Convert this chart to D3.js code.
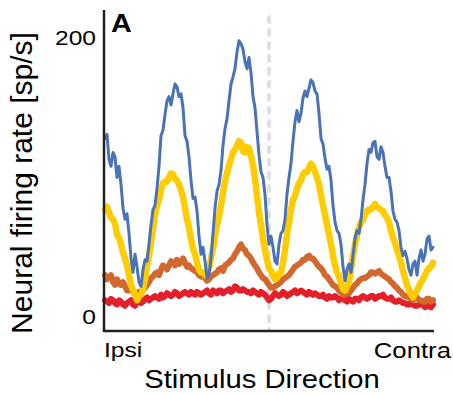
<!DOCTYPE html>
<html>
<head>
<meta charset="utf-8">
<script src="https://cdn.jsdelivr.net/npm/d3@7"></script>
<style>
  html, body { margin: 0; padding: 0; background: #fff; }
  svg { display: block; }
  text { font-family: "Liberation Sans", Arial, sans-serif; fill: #000; }
</style>
</head>
<body>
<svg id="chart" width="453" height="394"></svg>
<script>
// Firing rate [sp/s] sampled along stimulus direction (Ipsi -> Contra)
const blue = [128,131,113,108,118,115,100,108,95,78,70,74,60,42,32,45,36,25,22,34,41,40,52,66,77,80,92,108,130,134,145,155,158,152,160,167,165,158,160,150,130,126,115,98,85,86,76,58,45,50,40,28,30,42,60,78,90,95,105,123,135,142,155,167,172,178,190,198,196,192,183,178,186,175,158,150,133,116,104,100,88,66,52,58,50,40,38,52,60,62,70,88,100,110,126,140,148,140,146,157,162,158,164,170,168,162,160,146,128,124,114,106,108,98,80,68,62,60,52,36,26,34,38,32,44,56,62,60,70,84,95,110,120,118,125,126,115,113,122,118,108,100,100,90,76,70,68,62,50,44,47,42,34,30,38,40,30,42,48,40,45,56,58,48,50];
const yellow = [77,79,75,71,70,67,59,57,52,46,42,37,30,23,19,16,12,15,16,20,27,37,44,53,64,73,80,84,91,96,97,97,100,103,102,99,98,95,91,86,78,70,64,56,49,45,39,34,32,32,30,31,35,42,49,58,66,72,80,89,97,103,109,113,118,120,123,126,125,119,118,122,121,115,109,99,87,75,66,56,48,41,35,33,30,27,28,31,32,39,48,59,68,77,84,87,92,96,98,102,104,104,107,110,108,104,100,95,87,80,73,66,59,52,44,37,32,29,24,20,19,22,25,34,44,52,59,64,68,70,73,76,77,77,79,81,79,78,77,76,73,71,68,62,57,53,48,44,39,33,28,23,19,16,14,17,19,22,25,27,30,33,35,36,39];
const orange = [30,27,28,30,25,23,27,24,23,25,22,19,19,22,18,16,15,18,17,20,21,23,25,28,29,31,32,30,34,37,36,34,37,40,39,37,41,38,39,42,39,36,37,35,34,33,32,30,29,31,28,26,27,29,30,31,32,34,35,33,37,38,39,41,42,45,47,50,52,49,48,45,44,42,39,37,35,32,30,28,27,25,23,21,21,22,23,24,25,27,28,29,30,32,34,36,37,38,39,41,41,43,44,42,42,40,38,36,35,33,30,29,27,25,23,22,21,19,18,16,16,17,17,19,21,23,24,26,27,28,28,29,30,32,32,31,32,33,31,30,29,28,27,25,24,22,21,19,18,16,15,15,14,13,12,15,14,12,12,11,11,13,13,11,12];
const red = [12,11,10,13,12,10,9,12,11,9,8,10,11,12,9,8,11,12,10,11,13,14,12,13,14,15,14,13,16,14,15,17,16,15,16,18,17,15,16,17,18,17,16,18,17,16,18,17,16,17,18,19,17,16,19,18,17,19,19,17,18,19,20,18,19,22,21,19,19,20,19,18,18,17,19,18,17,16,18,17,16,14,12,13,15,17,16,15,16,18,17,15,16,17,18,19,17,18,19,18,17,16,18,17,16,17,16,15,15,16,14,13,15,14,14,15,14,12,13,14,12,11,13,12,11,13,13,12,14,15,14,13,14,15,15,13,14,15,15,16,14,13,13,14,12,11,11,12,11,10,10,9,9,10,9,8,8,9,9,10,7,8,8,7,9];
const yTicks = [0, 200];
const xLabels = ["Ipsi", "Contra"];

const series = [
  { name: "red", values: red, color: "#e3202a", width: 6 },
  { name: "orange", values: orange, color: "#d2682f", width: 6 },
  { name: "yellow", values: yellow, color: "#ffcc00", width: 6.5 },
  { name: "blue", values: blue, color: "#4a72b8", width: 3 }
];

const svg = d3.select("#chart");
const y = d3.scaleLinear().domain([0, 200]).range([317, 38]);
const xPix = [105, 433];
const xMid = d3.scaleLinear().domain([0, 1]).range(xPix)(0.5);

// dashed midline
svg.append("line")
  .attr("x1", xMid).attr("x2", xMid)
  .attr("y1", 17).attr("y2", 330)
  .attr("stroke", "#e0e0e0").attr("stroke-width", 4)
  .attr("stroke-linecap", "round")
  .attr("stroke-dasharray", "5,8");

series.forEach(s => {
  const x = d3.scaleLinear().domain([0, s.values.length - 1]).range(xPix);
  const line = d3.line().x((d, i) => x(i)).y(d => y(d));
  svg.append("path")
    .datum(s.values)
    .attr("d", line)
    .attr("fill", "none")
    .attr("stroke", s.color)
    .attr("stroke-width", s.width)
    .attr("stroke-linejoin", "round")
    .attr("stroke-linecap", "round");
});

// axes lines
svg.append("line").attr("x1", 104).attr("x2", 104).attr("y1", 10).attr("y2", 332)
  .attr("stroke", "#222").attr("stroke-width", 2.5);
svg.append("line").attr("x1", 103).attr("x2", 434).attr("y1", 331).attr("y2", 331)
  .attr("stroke", "#222").attr("stroke-width", 2.5);

// y tick labels via axis
const yAxis = d3.axisLeft(y).tickValues(yTicks).tickSize(0).tickPadding(0);
const gy = svg.append("g").attr("transform", "translate(96,0)").call(yAxis);
gy.select(".domain").remove();
gy.selectAll(".tick text")
  .style("font-size", "21px")
  .style("font-family", "Liberation Sans, Arial, sans-serif")
  .attr("fill", "#000")
  .attr("transform", "scale(1.17,1)");

// x labels
svg.append("text").attr("transform", "translate(104,357) scale(1.17,1)").style("font-size", "21px").text(xLabels[0]);
svg.append("text").attr("transform", "translate(451,358) scale(1.17,1)").attr("text-anchor", "end").style("font-size", "22px").text(xLabels[1]);

// titles
svg.append("text").attr("transform", "translate(262,388) scale(1.17,1)").attr("text-anchor", "middle").style("font-size", "25px").text("Stimulus Direction");
svg.append("text").attr("transform", "translate(32,183) rotate(-90)").attr("text-anchor", "middle").style("font-size", "30px").text("Neural firing rate [sp/s]");

svg.append("text").attr("transform", "translate(111,32) scale(1.15,1)").style("font-size", "25px").style("font-weight", "bold").text("A");
</script>
</body>
</html>
